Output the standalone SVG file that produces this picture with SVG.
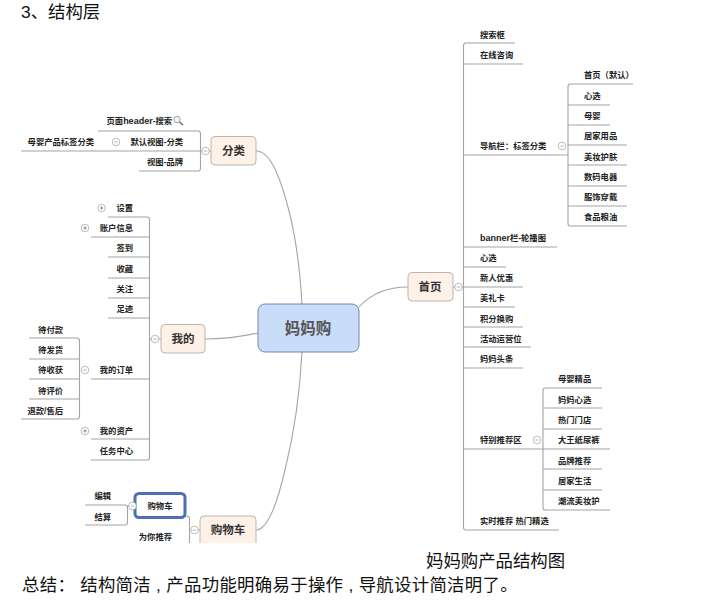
<svg xmlns="http://www.w3.org/2000/svg" width="720" height="608" viewBox="0 0 720 608">
<defs>
<clipPath id="crop"><rect x="0" y="0" width="720" height="543"/></clipPath>
<g id="collapse"><circle r="3.8" fill="#fff" stroke="#aaa" stroke-width="0.8"/><path d="M-1.8 0H1.8" stroke="#999" stroke-width="0.7"/></g>
<g id="expand"><circle r="3.8" fill="#fff" stroke="#aaa" stroke-width="0.8"/><path d="M-1.8 0H1.8M0 -1.800V1.800" stroke="#666" stroke-width="0.7"/></g>
</defs>
<style>
text{font-family:"Liberation Sans","Noto Sans CJK SC",sans-serif;fill:#222}
.l{font-size:8.3px;font-weight:bold;dominant-baseline:central}
.e{text-anchor:end}
.w{font-size:9px}
.t{font-size:11.5px;font-weight:bold;text-anchor:middle;dominant-baseline:central;fill:#333}
.b{fill:#fdf1e8;stroke:#bdb5ab;stroke-width:1}
.c{fill:none;stroke:#a4a4a4;stroke-width:1.100}
.h{font-size:17.400px;fill:#111}
</style>
<rect width="720" height="608" fill="#fff"/>
<text class="h" x="21" y="18">3、结构层</text>
<g clip-path="url(#crop)">
<g id="connectors" class="c">
<path d="M302 304C300 270 296 240 290 215C280 175 270 151 256 151"/>
<path d="M359 307C370 295 385 287 408 287"/>
<path d="M205 339C225 339 240 337 258 333"/>
<path d="M302 352C300 390 295 430 285 470C278 500 268 530 256 530"/>
<path d="M98 131H198Q200.500 131 200.500 133.500V168.500Q200.500 171 198 171H139M21 151H211"/>
<path d="M108 217H147Q149.500 217 149.500 219.500V457.500Q149.500 460 147 460H91M91 237H149.500M108 257H149.500M108 278H149.500M108 298H149.500M108 318H149.500M91 379H149.500M91 439H149.500M149.500 339H161"/>
<path d="M29 338H77Q79.500 338 79.500 340.500V416.500Q79.500 419 77 419H21M29 359H79.500M29 379H79.500M29 399H79.500"/>
<path d="M85 525H125Q127.500 525 127.500 522.500V507.500Q127.500 505 125 505H85M127.500 506H135"/>
<path d="M185 516H187Q189.500 516 189.500 518.500V560M189.500 530H200"/>
<path d="M515 43H466Q463.500 43 463.500 45.500V527.500Q463.500 530 466 530H559M463.500 64H523M463.500 155H568M463.500 247H557M463.500 267H506M453 287H523M463.500 307H515M463.500 327H523M463.500 347H531M463.500 368H523M463.500 449H543"/>
<path d="M633 84H570.500Q568 84 568 86.500V223.500Q568 226 570.500 226H627M568 105H610M568 125H610M568 145H627M568 165H627M568 186H627M568 206H627"/>
<path d="M602 388H545.500Q543 388 543 390.500V507.500Q543 510 545.500 510H610M543 408H602M543 429H602M543 449H610M543 469H602M543 490H602"/>
</g>
<g id="n-center"><rect x="258" y="304" width="101" height="48" rx="7" fill="#c9dcfa" stroke="#7088ab" stroke-width="1"/><text x="308" y="328" font-size="15.500" font-weight="bold" text-anchor="middle" dominant-baseline="central" style="fill:#555">妈妈购</text></g>
<g id="n-fenlei"><rect class="b" x="211" y="136.500" width="45" height="28.500" rx="4"/><text class="t" x="233.500" y="151">分类</text>
<use href="#collapse" x="205.500" y="151"/>
<text class="l e" x="172" y="121">页面<tspan class="w">header</tspan>-搜索</text>
<g id="magnifier" fill="none"><circle cx="177" cy="119.500" r="3.200" fill="#eef3fa" stroke="#999" stroke-width="0.9"/><path d="M179.500 122L183 125" stroke="#666" stroke-width="1.500"/></g>
<text class="l e" x="183" y="142">默认视图-分类</text><use href="#collapse" x="116" y="142"/>
<text class="l e" x="94" y="142">母婴产品标签分类</text>
<text class="l e" x="183" y="162">视图-品牌</text></g>
<g id="n-wode"><rect class="b" x="161" y="324.500" width="44" height="28.500" rx="4"/><text class="t" x="183" y="339">我的</text>
<use href="#collapse" x="155" y="339"/>
<text class="l e" x="133" y="208">设置</text><use href="#expand" x="101.500" y="208"/>
<text class="l e" x="133" y="228">账户信息</text><use href="#expand" x="85" y="228"/>
<text class="l e" x="133" y="248">签到</text>
<text class="l e" x="133" y="269">收藏</text>
<text class="l e" x="133" y="289">关注</text>
<text class="l e" x="133" y="309">足迹</text>
<text class="l e" x="133" y="370">我的订单</text><use href="#collapse" x="85" y="370"/>
<text class="l e" x="133" y="431">我的资产</text><use href="#expand" x="85" y="431"/>
<text class="l e" x="133" y="451">任务中心</text>
<text class="l e" x="63" y="330">待付款</text>
<text class="l e" x="63" y="350">待发货</text>
<text class="l e" x="63" y="370">待收获</text>
<text class="l e" x="63" y="391">待评价</text>
<text class="l e" x="63" y="411">退款/售后</text></g>
<g id="n-gouwuche"><rect class="b" x="200" y="516" width="56" height="40" rx="4"/><text class="t" x="228" y="530">购物车</text>
<use href="#collapse" x="194.500" y="530"/>
<rect x="135" y="493.500" width="50" height="24" rx="4" fill="#fff" stroke="#4e6fb1" stroke-width="3"/>
<text class="l" x="160" y="506" text-anchor="middle">购物车</text>
<use href="#collapse" x="132.500" y="506"/>
<text class="l e" x="111" y="496">编辑</text>
<text class="l e" x="111" y="517">结算</text>
<text class="l e" x="172" y="537">为你推荐</text></g>
<g id="n-shouye"><rect class="b" x="408" y="272.500" width="45" height="28.500" rx="4"/><text class="t" x="430" y="287">首页</text>
<use href="#collapse" x="458.500" y="287"/>
<text class="l" x="480" y="35">搜索框</text>
<text class="l" x="480" y="55">在线咨询</text>
<text class="l" x="480" y="146">导航栏：标签分类</text><use href="#collapse" x="562" y="146"/>
<text class="l" x="584" y="75">首页（默认）</text>
<text class="l" x="584" y="96">心选</text>
<text class="l" x="584" y="116">母婴</text>
<text class="l" x="584" y="136">居家用品</text>
<text class="l" x="584" y="157">美妆护肤</text>
<text class="l" x="584" y="177">数码电器</text>
<text class="l" x="584" y="197">服饰穿戴</text>
<text class="l" x="584" y="217">食品粮油</text>
<text class="l" x="480" y="238"><tspan class="w">banner</tspan>栏-轮播图</text>
<text class="l" x="480" y="258">心选</text>
<text class="l" x="480" y="278">新人优惠</text>
<text class="l" x="480" y="298">美礼卡</text>
<text class="l" x="480" y="319">积分换购</text>
<text class="l" x="480" y="339">活动运营位</text>
<text class="l" x="480" y="359">妈妈头条</text>
<text class="l" x="480" y="440">特别推荐区</text><use href="#collapse" x="537" y="440"/>
<text class="l" x="558" y="379">母婴精品</text>
<text class="l" x="558" y="400">妈妈心选</text>
<text class="l" x="558" y="420">热门门店</text>
<text class="l" x="558" y="440">大王纸尿裤</text>
<text class="l" x="558" y="461">品牌推荐</text>
<text class="l" x="558" y="481">居家生活</text>
<text class="l" x="558" y="501">潮流美妆护</text>
<text class="l" x="480" y="521">实时推荐 热门精选</text></g>
</g>
<text class="h" x="426" y="567">妈妈购产品结构图</text>
<text class="h" x="22" y="591" style="letter-spacing:.3px">总结： 结构简洁 , 产品功能明确易于操作 , 导航设计简洁明了。</text>
</svg>
